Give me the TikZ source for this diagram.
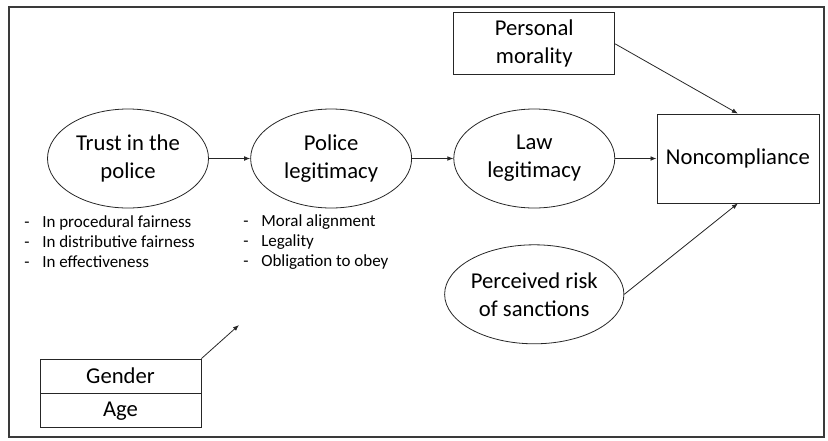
\documentclass[tikz,border=0pt]{standalone}
\usepackage{fontspec}
\setmainfont{Carlito}
\usetikzlibrary{positioning, arrows.meta, shapes.geometric}
\definecolor{cLine}{HTML}{262626}
\definecolor{cFrame}{HTML}{3A3A3A}
\newcommand{\itm}[1]{\makebox[13.5pt][l]{-}#1}
\tikzset{
  construct/.style={
    ellipse, draw=cLine, line width=0.6pt,
    minimum width=120.75pt, minimum height=74.25pt,
    align=center, font=\fontsize{17}{21}\selectfont, inner sep=0pt
  },
  outcome/.style 2 args={
    rectangle, draw=cLine, line width=0.6pt,
    minimum width=#1, minimum height=#2,
    align=center, font=\fontsize{17}{21}\selectfont, inner sep=0pt
  },
  bullets/.style={
    align=left, font=\fontsize{12.75}{15}\selectfont,
    inner sep=0pt, anchor=west
  },
  arr/.style={
    -{Latex[length=4.5pt, width=3.5pt]}, line width=0.6pt, color=cLine
  }
}
\begin{document}
\begin{tikzpicture}[x=0.75pt, y=-0.75pt]

%% frame
\useasboundingbox (0,0) rectangle (828,440);
\draw[cFrame, line width=1.4pt] (9,7) rectangle (824,437);

%% main chain
\node[construct] (trust) at (128,158.5) {Trust in the\\police};
\node[construct, right=31pt of trust] (police) {Police\\legitimacy};
\node[construct, right=31pt of police] (law) {Law\\legitimacy};
\node[outcome={121.5pt}{66.75pt}, right=31pt of law] (noncomp) {Noncompliance};

%% other predictors
\node[outcome={120.75pt}{46.5pt}, above=25pt of law] (moral) {Personal\\morality};
\node[construct, below=27pt of law] (risk) {Perceived risk\\of sanctions};

%% controls
\node[outcome={120.75pt}{25.5pt}] (gender) at (120.5,376) {Gender};
\node[outcome={120.75pt}{25.5pt}, below=0pt of gender] (age) {Age};
\coordinate (ctrl) at (239,325);

%% dimensions
\node[bullets] (trustdims) at (24,242) {%
  \itm{In procedural fairness}\\
  \itm{In distributive fairness}\\
  \itm{In effectiveness}};
\node[bullets] (policedims) at (243,242) {%
  \itm{Moral alignment}\\
  \itm{Legality}\\
  \itm{Obligation to obey}};

%% arrows
\draw[arr] (trust) -- (police);
\draw[arr] (police) -- (law);
\draw[arr] (law) -- (noncomp);
\draw[arr] (moral.east) -- (noncomp.north);
\draw[arr] (risk.east) -- (noncomp.south);
\draw[arr] (gender.north east) -- (ctrl);

\end{tikzpicture}
\end{document}
